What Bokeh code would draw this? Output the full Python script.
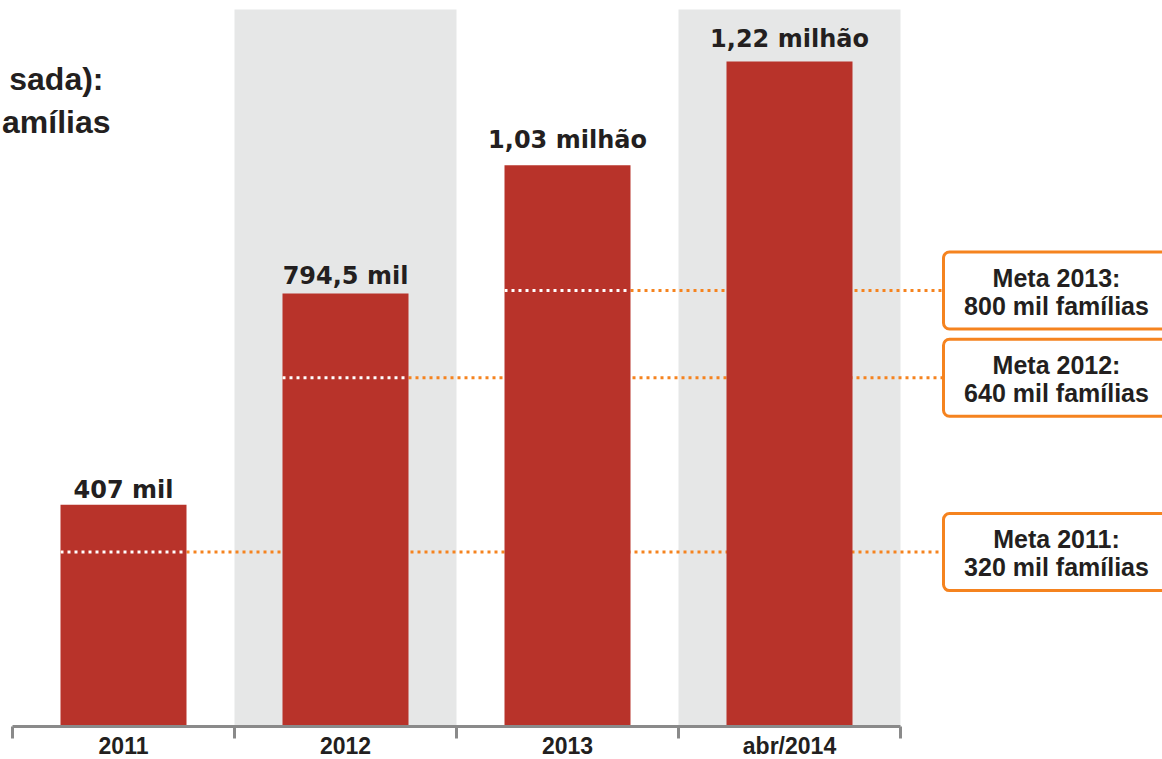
from bokeh.plotting import figure
from bokeh.models import Range1d, BoxAnnotation, Label, ColumnDataSource
from bokeh.core.properties import value
from bokeh.embed import file_html
from bokeh.resources import INLINE

# ---- data ----
categories = ["2011", "2012", "2013", "abr/2014"]
families_k = [407, 794.5, 1030, 1220]            # thousands of families
value_labels = ["407 mil", "794,5 mil", "1,03 milhão", "1,22 milhão"]
meta_years_idx = [0, 1, 2]                       # category index where each goal line starts
meta_values_k = [320, 640, 800]
meta_title = ["Meta 2011:", "Meta 2012:", "Meta 2013:"]
meta_sub = ["320 mil famílias", "640 mil famílias", "800 mil famílias"]
title_lines = ["sada):", "amílias"]

# ---- styles ----
W, H = 1162, 759
BAR = "#b8332a"
BAND = "#e6e7e7"
ORANGE = "#f5831f"
TXT = "#231f20"
AXIS = "#8a8a8a"
cat_px = 222.0
first_center_px = 123.0
k = 0.545                       # px per thousand
baseline_px = 726.0
bar_w = 126.0 / cat_px
label_gap = [15, 17, 25, 23]

x0 = -first_center_px / cat_px
x1 = x0 + W / cat_px
y0 = -(H - baseline_px) / k
y1 = y0 + H / k

def xd(px):
    return x0 + px / cat_px

p = figure(width=W, height=H, output_backend="svg", toolbar_location=None,
           x_range=Range1d(x0, x1), y_range=Range1d(y0, y1), min_border=0)
p.axis.visible = False
p.grid.visible = False
p.outline_line_color = None
p.background_fill_color = "white"
p.border_fill_color = "white"

n = len(categories)
xs = list(range(n))

# gray bands behind alternate categories
band_idx = [i for i in xs if i % 2 == 1]
p.quad(left=[i - 0.5 for i in band_idx], right=[i + 0.5 for i in band_idx],
       bottom=0, top=y1 - 9 / k, fill_color=BAND, line_color=None)

# goal boxes
box_left = xd(943)
box_half = 38.5 / k
for mv in meta_values_k:
    b = BoxAnnotation(left=box_left, right=x1 + 1, bottom=mv - box_half, top=mv + box_half,
                      fill_color="white", fill_alpha=1.0, line_color=ORANGE, line_width=3,
                      line_alpha=1.0, border_radius=6, level="underlay")
    p.add_layout(b)

# orange dotted goal lines (behind bars)
p.segment(x0=[i - bar_w / 2 for i in meta_years_idx], x1=[box_left] * len(meta_values_k),
          y0=meta_values_k, y1=meta_values_k, line_color=ORANGE, line_width=3,
          line_dash="3 4")

# bars
src = ColumnDataSource(dict(x=xs, top=families_k, lab=value_labels, cat=categories))
p.vbar(x="x", top="top", bottom=0, width=bar_w, source=src, fill_color=BAR, line_color=None)

# white dotted part over each goal's own bar
p.segment(x0=[i - bar_w / 2 for i in meta_years_idx], x1=[i + bar_w / 2 for i in meta_years_idx],
          y0=meta_values_k, y1=meta_values_k, line_color="white", line_width=3,
          line_dash="3 4")

# value labels
for i in xs:
    p.text(x=[i], y=[families_k[i]], text=[value_labels[i]], y_offset=-label_gap[i],
           text_align="center", text_baseline="alphabetic",
           text_font=value("DejaVu Sans"), text_font_style="bold",
           text_font_size="24px", text_color=TXT)

# axis line and ticks
p.segment(x0=[-0.5], x1=[n - 0.5], y0=[0], y1=[0], line_color=AXIS, line_width=3)
ticks = [i - 0.5 for i in range(n + 1)]
p.segment(x0=ticks, x1=ticks, y0=[0] * len(ticks), y1=[-12 / k] * len(ticks),
          line_color=AXIS, line_width=3)
p.text(x="x", y=0, text="cat", source=src, y_offset=19, text_align="center",
       text_baseline="middle", text_font=value("Liberation Sans"), text_font_style="bold",
       text_font_size="23px", text_color=TXT)

# goal box texts
bx = xd(1056)
p.text(x=[bx] * len(meta_values_k), y=meta_values_k, text=meta_title, y_offset=-13,
       text_align="center", text_baseline="middle", text_font=value("Liberation Sans"),
       text_font_style="bold", text_font_size="25px", text_color=TXT)
p.text(x=[bx] * len(meta_values_k), y=meta_values_k, text=meta_sub, y_offset=15,
       text_align="center", text_baseline="middle", text_font=value("Liberation Sans"),
       text_font_style="bold", text_font_size="25px", text_color=TXT)

# partially visible title
for t, xr, yb in zip(title_lines, [103, 110], [78, 121]):
    p.add_layout(Label(x=xr, y=H - yb, x_units="screen", y_units="screen", text=t,
                       text_align="right", text_baseline="alphabetic",
                       text_font="Liberation Sans", text_font_style="bold",
                       text_font_size="32px", text_color=TXT))

open("out.html", "w").write(file_html(p, INLINE))
